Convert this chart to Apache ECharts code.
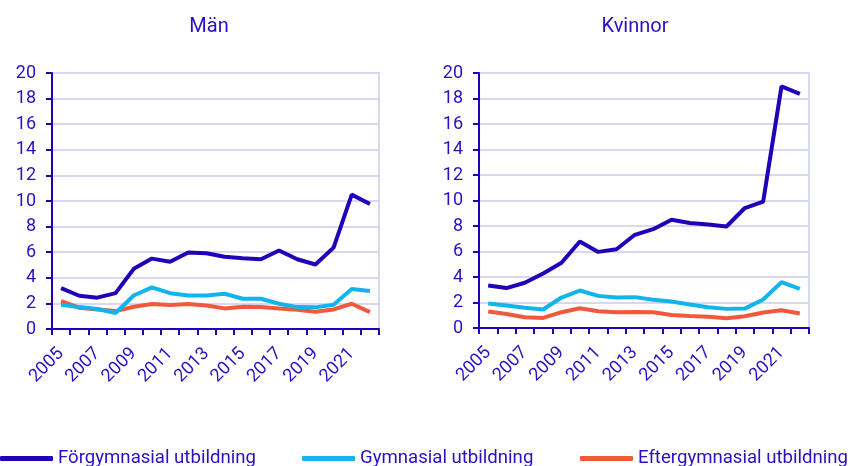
<!DOCTYPE html>
<html>
<head>
<meta charset="utf-8">
<script src="https://cdn.jsdelivr.net/npm/echarts@6/dist/echarts.min.js"></script>
<style>
  html, body { margin: 0; padding: 0; background: #fff; }
  #chart { width: 848px; height: 466px; }
</style>
</head>
<body>
<div id="chart"></div>
<script>
  const years = ['2005', '2006', '2007', '2008', '2009', '2010', '2011', '2012', '2013',
    '2014', '2015', '2016', '2017', '2018', '2019', '2020', '2021', '2022'];
  const seriesNames = ['Förgymnasial utbildning', 'Gymnasial utbildning', 'Eftergymnasial utbildning'];
  const yTicks = { min: 0, max: 20, step: 2 };

  // Män
  const manFor = [3.2, 2.6, 2.45, 2.8, 4.7, 5.5, 5.25, 5.97, 5.92, 5.64, 5.53, 5.45, 6.13, 5.45, 5.04, 6.36, 10.5, 9.77];
  const manGym = [1.9, 1.71, 1.56, 1.25, 2.62, 3.25, 2.8, 2.62, 2.62, 2.75, 2.36, 2.36, 1.97, 1.71, 1.69, 1.9, 3.12, 2.96];
  const manEft = [2.18, 1.66, 1.53, 1.4, 1.74, 1.95, 1.87, 1.95, 1.84, 1.61, 1.74, 1.71, 1.61, 1.5, 1.35, 1.53, 1.97, 1.32];

  // Kvinnor
  const kvFor = [3.34, 3.13, 3.55, 4.28, 5.12, 6.78, 5.97, 6.18, 7.31, 7.75, 8.49, 8.23, 8.12, 7.96, 9.41, 9.91, 18.95, 18.37];
  const kvGym = [1.92, 1.76, 1.58, 1.45, 2.39, 2.94, 2.52, 2.39, 2.42, 2.21, 2.08, 1.84, 1.63, 1.5, 1.52, 2.23, 3.6, 3.07];
  const kvEft = [1.29, 1.1, 0.84, 0.79, 1.24, 1.55, 1.31, 1.24, 1.26, 1.24, 1.02, 0.95, 0.89, 0.76, 0.92, 1.21, 1.39, 1.13];

  const textColor = '#2a10c4';
  const axisColor = '#2200b8';
  const gridColor = '#d8d8f2';
  const colors = ['#2200b8', '#12b4ec', '#f05a3c'];
  const font = 'Roboto';

  const chart = echarts.init(document.getElementById('chart'), null, { renderer: 'canvas' });

  function makeX(gridIndex) {
    return {
      type: 'category',
      gridIndex: gridIndex,
      data: years,
      boundaryGap: true,
      axisLine: { lineStyle: { color: axisColor, width: 2 } },
      axisTick: { show: true, interval: 0, length: 6, lineStyle: { color: axisColor, width: 2 } },
      axisLabel: {
        interval: 1,
        rotate: 45,
        margin: 22,
        color: textColor,
        fontFamily: font,
        fontSize: 18
      },
      splitLine: { show: false }
    };
  }

  function makeY(gridIndex) {
    return {
      type: 'value',
      gridIndex: gridIndex,
      min: yTicks.min,
      max: yTicks.max,
      interval: yTicks.step,
      axisLine: { show: true, lineStyle: { color: axisColor, width: 2 } },
      axisTick: { show: true, length: 6, lineStyle: { color: axisColor, width: 2 } },
      axisLabel: { color: textColor, fontFamily: font, fontSize: 18, margin: 16 },
      splitLine: { lineStyle: { color: gridColor, width: 2 } }
    };
  }

  function makeSeries(name, data, idx, colorIdx) {
    return {
      name: name,
      type: 'line',
      xAxisIndex: idx,
      yAxisIndex: idx,
      data: data,
      symbol: 'none',
      color: colors[colorIdx],
      lineStyle: { width: 4, color: colors[colorIdx] },
      z: 10 - colorIdx
    };
  }

  function makeLegend(name, left) {
    return {
      data: [name],
      left: left,
      top: 449,
      padding: 0,
      itemWidth: 53,
      itemHeight: 5,
      itemGap: 0,
      icon: 'roundRect',
      textStyle: { color: textColor, fontFamily: font, fontSize: 18.6, padding: [0, 0, 0, 0] }
    };
  }

  const option = {
    animation: false,
    title: [
      { text: 'Män', left: 204, top: 12, textAlign: 'center',
        textStyle: { color: textColor, fontFamily: font, fontSize: 20, fontWeight: 'normal' } },
      { text: 'Kvinnor', left: 630, top: 12, textAlign: 'center',
        textStyle: { color: textColor, fontFamily: font, fontSize: 20, fontWeight: 'normal' } }
    ],
    legend: [
      makeLegend(seriesNames[0], 0),
      makeLegend(seriesNames[1], 302),
      makeLegend(seriesNames[2], 580)
    ],
    grid: [
      { left: 52, right: 469, top: 73, bottom: 137, show: true, borderColor: gridColor, borderWidth: 2 },
      { left: 479, right: 39, top: 73, bottom: 138, show: true, borderColor: gridColor, borderWidth: 2 }
    ],
    xAxis: [makeX(0), makeX(1)],
    yAxis: [makeY(0), makeY(1)],
    series: [
      makeSeries(seriesNames[0], manFor, 0, 0),
      makeSeries(seriesNames[1], manGym, 0, 1),
      makeSeries(seriesNames[2], manEft, 0, 2),
      makeSeries(seriesNames[0], kvFor, 1, 0),
      makeSeries(seriesNames[1], kvGym, 1, 1),
      makeSeries(seriesNames[2], kvEft, 1, 2)
    ]
  };

  chart.setOption(option);
</script>
</body>
</html>
